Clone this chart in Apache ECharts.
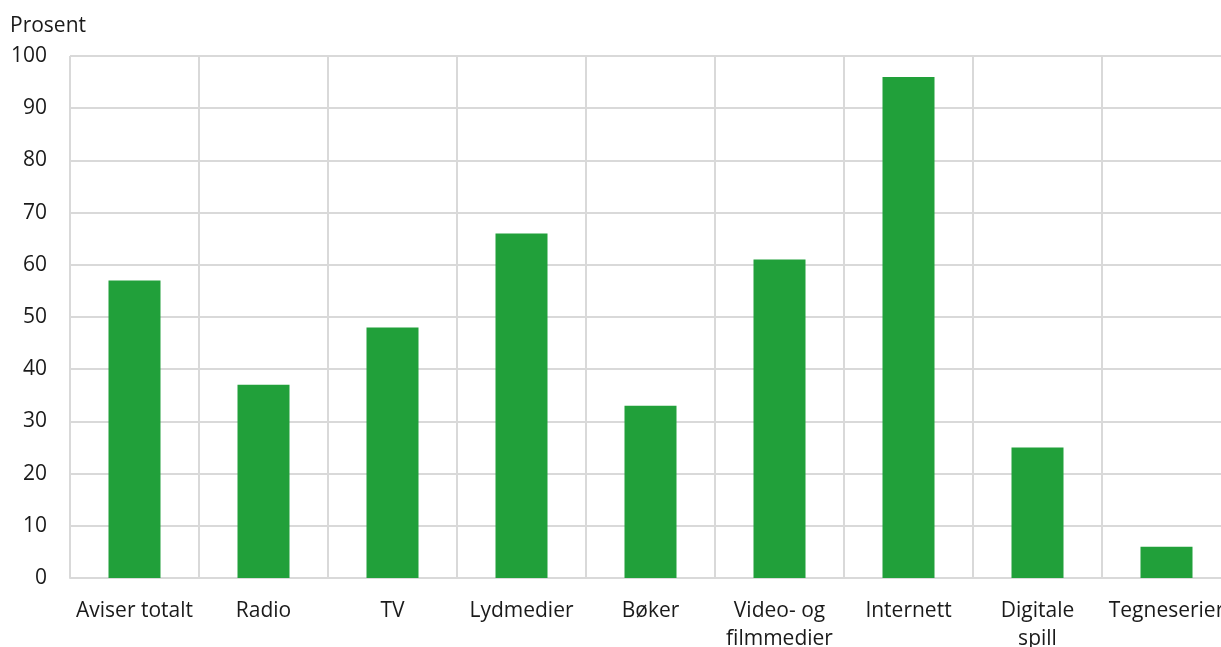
<!DOCTYPE html>
<html><head><meta charset="utf-8">
<script src="https://cdn.jsdelivr.net/npm/echarts@6/dist/echarts.min.js"></script>
<style>html,body{margin:0;padding:0;background:#fff}#c{width:1221px;height:647px}</style>
</head><body><div id="c"></div>
<script>
const categories = ["Aviser totalt","Radio","TV","Lydmedier","Bøker","Video- og\nfilmmedier","Internett","Digitale\nspill","Tegneserier"];
const values = [57,37,48,66,33,61,96,25,6];
const yTicks = {min:0,max:100,interval:10};
const unitLabel = "Prosent";
const chart = echarts.init(document.getElementById('c'));
const font = "'Open Sans'";
chart.setOption({
  animation:false,
  textStyle:{fontFamily:font},
  graphic:[{type:'text',left:10,top:16,style:{text:unitLabel,font:"21px 'Open Sans'",fill:'#1a1a1a'}}],
  grid:{left:70,right:-10,top:56,bottom:69,containLabel:false,outerBoundsMode:'none'},
  xAxis:{type:'category',data:categories,
    axisLine:{show:true,lineStyle:{color:'#d9d9d9',width:2}},
    axisTick:{show:false},
    splitLine:{show:true,lineStyle:{color:'#d9d9d9',width:2}},
    axisLabel:{color:'#1a1a1a',fontSize:21,fontFamily:font,margin:19,lineHeight:28,interval:0}},
  yAxis:{type:'value',min:yTicks.min,max:yTicks.max,interval:yTicks.interval,
    axisLine:{show:false},axisTick:{show:false},
    splitLine:{show:true,lineStyle:{color:'#d9d9d9',width:2}},
    axisLabel:{color:'#1a1a1a',fontSize:21,fontFamily:font,margin:23,padding:[3,0,0,0]}},
  series:[{type:'bar',data:values,barWidth:52,itemStyle:{color:'#21a03a'}}]
});
</script></body></html>
